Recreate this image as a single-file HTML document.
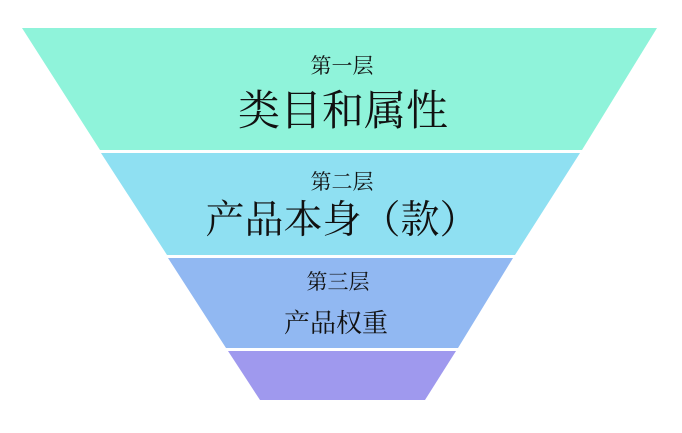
<!DOCTYPE html>
<html><head><meta charset="utf-8"><style>
html,body{margin:0;padding:0;background:#fff;}
svg text{font-family:"Liberation Serif","Noto Serif CJK SC",serif;fill:#111;text-anchor:middle;}
</style></head><body>
<svg width="682" height="428" viewBox="0 0 682 428" xmlns="http://www.w3.org/2000/svg">
<rect width="682" height="428" fill="#fff"/>
<polygon points="22,28 657,28 582,150 100,150" fill="#8ff3da"/>
<polygon points="101,153 580,153 515,255 167,255" fill="#8fe0f2"/>
<polygon points="168,258 513,258 458,348 226,348" fill="#91b8f2"/>
<polygon points="228,351 456,351 425,400 260,400" fill="#9f99ee"/>
<text x="342" y="73" font-size="21">第一层</text>
<text x="343" y="125" font-size="42">类目和属性</text>
<text x="342" y="189" font-size="21">第二层</text>
<text x="342" y="233" font-size="39">产品本身（款）</text>
<text x="338" y="289" font-size="21">第三层</text>
<text x="336" y="332" font-size="26">产品权重</text>
</svg>
</body></html>
